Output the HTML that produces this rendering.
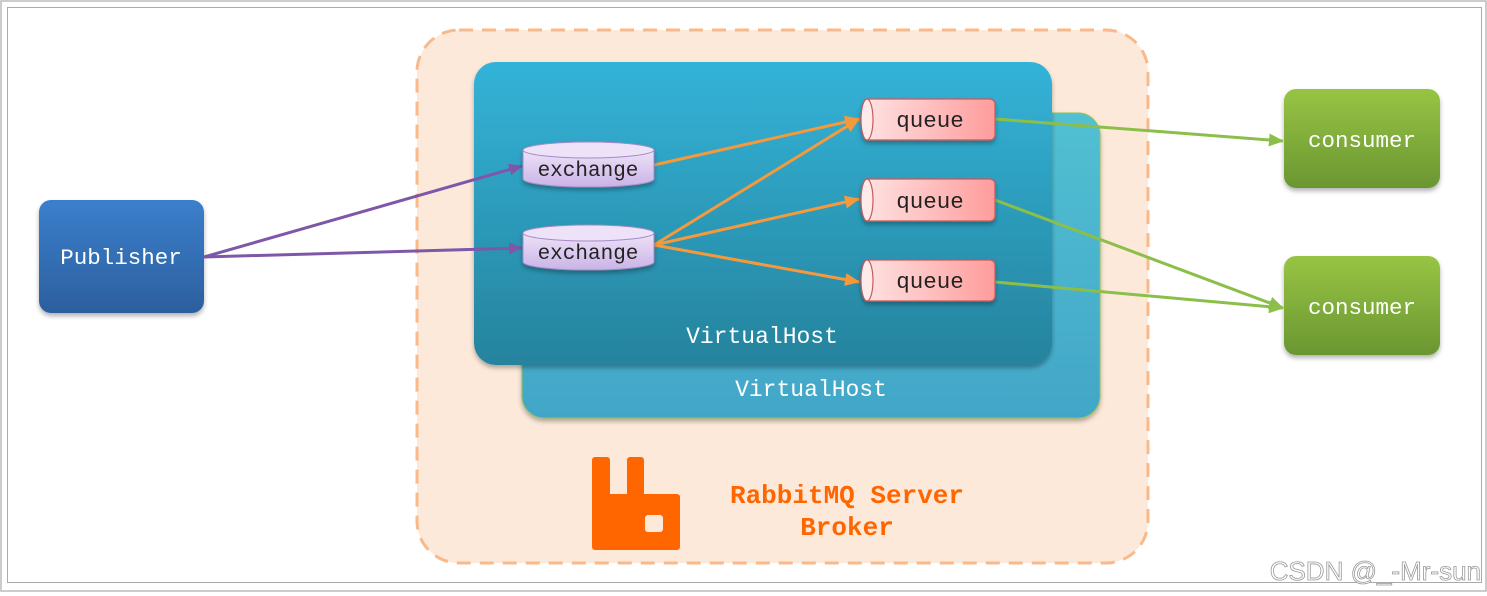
<!DOCTYPE html>
<html><head><meta charset="utf-8"><style>
html,body{margin:0;padding:0;background:#fff;}
svg{display:block;}
text{font-family:"Liberation Mono","DejaVu Sans Mono",monospace;}
</style></head><body>
<svg width="1487" height="596" viewBox="0 0 1487 596" xmlns="http://www.w3.org/2000/svg">
<defs>
<linearGradient id="pub" x1="0" y1="0" x2="0" y2="1"><stop offset="0" stop-color="#3b7fcc"/><stop offset="1" stop-color="#2c5f9e"/></linearGradient>
<linearGradient id="cons" x1="0" y1="0" x2="0" y2="1"><stop offset="0" stop-color="#98c444"/><stop offset="1" stop-color="#6a9632"/></linearGradient>
<linearGradient id="vh1" x1="0" y1="0" x2="0" y2="1"><stop offset="0" stop-color="#33b3d8"/><stop offset="1" stop-color="#26839d"/></linearGradient>
<linearGradient id="vh2" x1="0" y1="0" x2="0" y2="1"><stop offset="0" stop-color="#52c0d2"/><stop offset="1" stop-color="#42a6c8"/></linearGradient>
<linearGradient id="q" x1="0" y1="0" x2="1" y2="0"><stop offset="0" stop-color="#ffe4e4"/><stop offset="1" stop-color="#ff9c9c"/></linearGradient>
<linearGradient id="ex" x1="0" y1="0" x2="0" y2="1"><stop offset="0" stop-color="#eee2f8"/><stop offset="1" stop-color="#c9b3e6"/></linearGradient>
<marker id="ap" markerWidth="14" markerHeight="14" refX="13" refY="7" orient="auto" markerUnits="userSpaceOnUse"><path d="M0,1 L14,7 L0,13 z" fill="#7e57a8"/></marker>
<marker id="ao" markerWidth="15" markerHeight="15" refX="14" refY="7.5" orient="auto" markerUnits="userSpaceOnUse"><path d="M0,1 L15,7.5 L0,14 z" fill="#f59a3c"/></marker>
<marker id="ag" markerWidth="15" markerHeight="15" refX="14" refY="7.5" orient="auto" markerUnits="userSpaceOnUse"><path d="M0,1 L15,7.5 L0,14 z" fill="#8cbf4a"/></marker>
<filter id="sh" x="-10%" y="-10%" width="120%" height="130%"><feDropShadow dx="0" dy="3" stdDeviation="2.5" flood-opacity="0.3"/></filter>
</defs>
<rect x="1" y="1" width="1485" height="590" fill="#fff" stroke="#bbb" stroke-width="1.5"/>
<rect x="7.5" y="7.5" width="1474" height="575" fill="#fff" stroke="#aaa" stroke-width="1"/>

<rect x="417" y="30" width="731" height="533" rx="42" fill="#fde9da" stroke="#f9b98a" stroke-width="3" stroke-dasharray="14,9"/>

<rect x="522" y="113" width="578" height="305" rx="22" fill="url(#vh2)" stroke="#8cc25a" stroke-width="1" filter="url(#sh)"/>
<text x="811" y="396" font-size="23" fill="#fff" text-anchor="middle">VirtualHost</text>
<rect x="474" y="62" width="578" height="303" rx="22" fill="url(#vh1)" filter="url(#sh)"/>
<text x="762" y="343" font-size="23" fill="#fff" text-anchor="middle">VirtualHost</text>

<rect x="39" y="200" width="165" height="113" rx="12" fill="url(#pub)" filter="url(#sh)"/>
<text x="121" y="264" font-size="22.5" fill="#fff" text-anchor="middle">Publisher</text>

<rect x="1284" y="89" width="156" height="99" rx="12" fill="url(#cons)" filter="url(#sh)"/>
<text x="1362" y="147" font-size="22.5" fill="#fff" text-anchor="middle">consumer</text>
<rect x="1284" y="256" width="156" height="99" rx="12" fill="url(#cons)" filter="url(#sh)"/>
<text x="1362" y="314" font-size="22.5" fill="#fff" text-anchor="middle">consumer</text>

<g stroke-width="3" fill="none">
<line x1="204" y1="257" x2="522" y2="166" stroke="#7e57a8" marker-end="url(#ap)"/>
<line x1="204" y1="257" x2="522" y2="248" stroke="#7e57a8" marker-end="url(#ap)"/>
<line x1="654" y1="165" x2="859" y2="119" stroke="#f59a3c" marker-end="url(#ao)"/>
<line x1="654" y1="245" x2="859" y2="119" stroke="#f59a3c" marker-end="url(#ao)"/>
<line x1="654" y1="245" x2="859" y2="199" stroke="#f59a3c" marker-end="url(#ao)"/>
<line x1="654" y1="245" x2="859" y2="282" stroke="#f59a3c" marker-end="url(#ao)"/>
<line x1="995" y1="119" x2="1283" y2="141" stroke="#8cbf4a" marker-end="url(#ag)"/>
<line x1="995" y1="200" x2="1283" y2="308" stroke="#8cbf4a" marker-end="url(#ag)"/>
<line x1="995" y1="282" x2="1283" y2="308" stroke="#8cbf4a" marker-end="url(#ag)"/>
</g>

<g filter="url(#sh)">
<g>
<path d="M523,150 v29 a65,8 0 0 0 131,0 v-29" fill="url(#ex)" stroke="#a58bc8"/>
<ellipse cx="588.5" cy="150" rx="65.5" ry="8" fill="#eee2f8" stroke="#a58bc8"/>
</g>
<g>
<path d="M523,233 v29 a65,8 0 0 0 131,0 v-29" fill="url(#ex)" stroke="#a58bc8"/>
<ellipse cx="588.5" cy="233" rx="65.5" ry="8" fill="#eee2f8" stroke="#a58bc8"/>
</g>
</g>
<text x="588" y="176" font-size="21" fill="#222" text-anchor="middle">exchange</text>
<text x="588" y="259" font-size="21" fill="#222" text-anchor="middle">exchange</text>

<g filter="url(#sh)" stroke="#c65a5a" stroke-width="1.2">
<path d="M867,99 h123 a5,5 0 0 1 5,5 v31 a5,5 0 0 1 -5,5 h-123 a6,20.5 0 0 1 0,-41 z" fill="url(#q)"/>
<ellipse cx="867" cy="119.5" rx="6" ry="20.5" fill="#ffeaea"/>
<path d="M867,179 h123 a5,5 0 0 1 5,5 v32 a5,5 0 0 1 -5,5 h-123 a6,21 0 0 1 0,-42 z" fill="url(#q)"/>
<ellipse cx="867" cy="200" rx="6" ry="21" fill="#ffeaea"/>
<path d="M867,260 h123 a5,5 0 0 1 5,5 v31 a5,5 0 0 1 -5,5 h-123 a6,20.5 0 0 1 0,-41 z" fill="url(#q)"/>
<ellipse cx="867" cy="280.5" rx="6" ry="20.5" fill="#ffeaea"/>
</g>
<text x="930" y="127" font-size="22.5" fill="#222" text-anchor="middle">queue</text>
<text x="930" y="208" font-size="22.5" fill="#222" text-anchor="middle">queue</text>
<text x="930" y="288" font-size="22.5" fill="#222" text-anchor="middle">queue</text>

<g fill="#ff6600">
<rect x="592" y="457" width="18" height="50" rx="3"/>
<rect x="627" y="457" width="17" height="50" rx="3"/>
<rect x="592" y="494" width="88" height="56" rx="3"/>
</g>
<rect x="645" y="515" width="18" height="17" rx="3" fill="#fde9da"/>
<text x="847" y="503" font-size="26" font-weight="bold" fill="#ff6600" text-anchor="middle">RabbitMQ Server</text>
<text x="847" y="535" font-size="26" font-weight="bold" fill="#ff6600" text-anchor="middle">Broker</text>

<text x="1481" y="580" font-size="26" fill="#fff" stroke="#999" stroke-width="0.8" text-anchor="end" style="font-family:'Liberation Sans',sans-serif">CSDN @_-Mr-sun</text>
</svg>
</body></html>
